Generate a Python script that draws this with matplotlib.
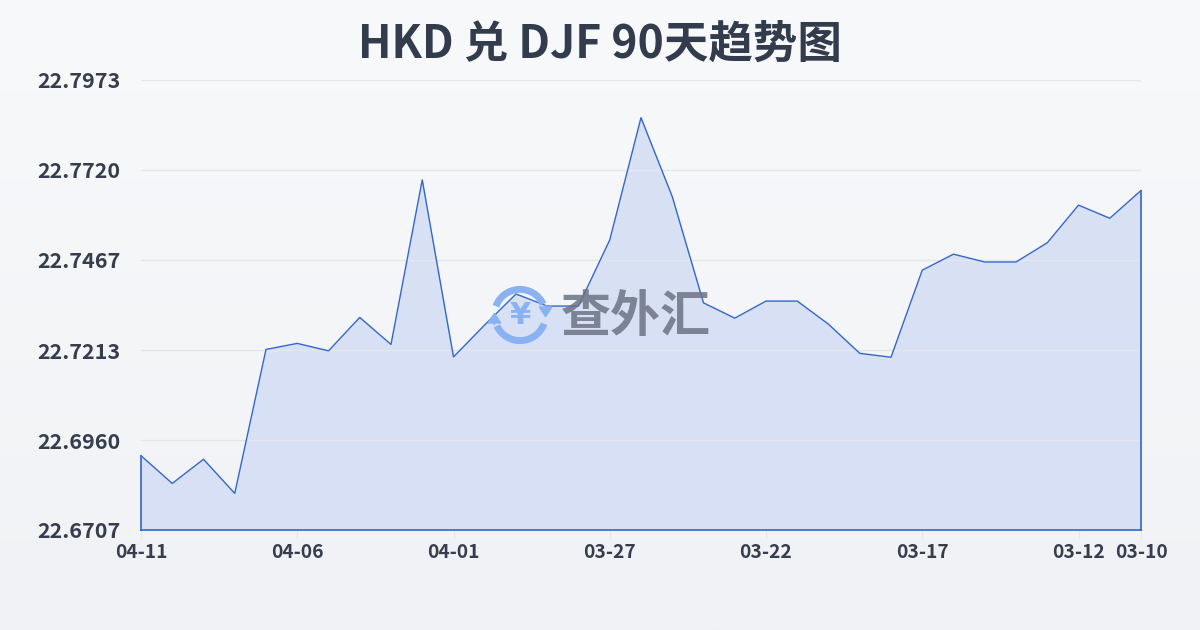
import numpy as np
import matplotlib
matplotlib.use('Agg')
import matplotlib.pyplot as plt
from matplotlib.patches import Arc, FancyArrow

plt.rcParams['font.family'] = ['Noto Sans CJK SC', 'DejaVu Sans']

# data, newest first (left) to oldest (right)
dates = ['04-11', '04-10', '04-09', '04-08', '04-07', '04-06', '04-05', '04-04',
         '04-03', '04-02', '04-01', '03-31', '03-30', '03-29', '03-28', '03-27',
         '03-26', '03-25', '03-24', '03-23', '03-22', '03-21', '03-20', '03-19',
         '03-18', '03-17', '03-16', '03-15', '03-14', '03-13', '03-12', '03-11',
         '03-10']
rates = [22.6916, 22.6838, 22.6906, 22.6810, 22.7215, 22.7232, 22.7211, 22.7305,
         22.7229, 22.7692, 22.7194, 22.7284, 22.7371, 22.7337, 22.7337, 22.7523,
         22.7867, 22.7645, 22.7346, 22.7303, 22.7351, 22.7351, 22.7286, 22.7204,
         22.7193, 22.7438, 22.7483, 22.7461, 22.7461, 22.7515, 22.7621, 22.7584,
         22.7662]
yticks = [22.6707, 22.6960, 22.7213, 22.7467, 22.7720, 22.7973]
xtick_idx = [0, 5, 10, 15, 20, 25, 30, 32]
title = 'HKD 兑 DJF 90天趋势图'

W, H = 1200, 630
fig = plt.figure(figsize=(W / 100, H / 100), dpi=100)

# background gradient
bg = fig.add_axes([0, 0, 1, 1], zorder=-10)
grad = np.linspace(0, 1, 256).reshape(-1, 1)
top = np.array([0xf8, 0xf9, 0xfb]) / 255
bot = np.array([0xf0, 0xf2, 0xf5]) / 255
img = top + (bot - top) * grad[:, :, None]
bg.imshow(img, aspect='auto', extent=[0, 1, 0, 1])
bg.axis('off')

ax = fig.add_axes([141 / W, (H - 530) / H, 1000 / W, 450 / H])
ax.patch.set_alpha(0)
x = np.arange(len(rates))
line_c = '#3366cc'
ax.fill_between(x, rates, yticks[0], color='#d3ddf4', alpha=0.85, linewidth=0)
ax.plot(x, rates, color=line_c, lw=1.0, clip_on=False)
ax.plot([0, 0], [yticks[0], rates[0]], color=line_c, lw=1.2, clip_on=False)
ax.plot([x[-1], x[-1]], [yticks[0], rates[-1]], color=line_c, lw=1.2, clip_on=False)
ax.plot([0, x[-1]], [yticks[0], yticks[0]], color=line_c, lw=1.2, clip_on=False)

ax.set_xlim(0, len(rates) - 1)
ax.set_ylim(yticks[0], yticks[-1])
ax.set_yticks(yticks)
ax.set_yticklabels([f'{v:.4f}' for v in yticks])
ax.set_xticks(xtick_idx)
ax.set_xticklabels([dates[i] for i in xtick_idx])
ax.grid(axis='y', color='#e3e6eb', lw=1)
for s in ax.spines.values():
    s.set_visible(False)
ax.tick_params(axis='y', length=0, pad=15, labelsize=15.5, labelcolor='#363e4d')
ax.tick_params(axis='x', length=6, color='#e3e6eb', pad=3, labelsize=13.8,
               labelcolor='#363e4d')
for lab in ax.get_yticklabels() + ax.get_xticklabels():
    lab.set_fontweight('bold')

fig.text(0.5, 1 - 45 / H, title, ha='center', va='center', fontsize=32,
         fontweight='heavy', color='#333c4c')

# watermark
fig.text(561 / W, 1 - 317 / H, '查外汇', ha='left', va='center', fontsize=36,
         fontweight='bold', color='#6b7385', alpha=0.85)
ic = fig.add_axes([(520 - 32) / W, 1 - (315 + 32) / H, 64 / W, 64 / H])
ic.set_xlim(-1, 1)
ic.set_ylim(-1, 1)
ic.axis('off')
blue = '#8ab2f2'
ic.add_patch(Arc((0, 0), 1.6, 1.6, theta1=25, theta2=160, lw=5, color=blue))
ic.add_patch(Arc((0, 0), 1.6, 1.6, theta1=205, theta2=340, lw=5, color=blue))
ic.add_patch(FancyArrow(0.8, 0.3, 0.0, -0.05, width=0.01, head_width=0.4,
                        head_length=0.3, color=blue))
ic.add_patch(FancyArrow(-0.8, -0.3, 0.0, 0.05, width=0.01, head_width=0.4,
                        head_length=0.3, color=blue))
ic.text(0, -0.02, '¥', ha='center', va='center', fontsize=22, fontweight='bold',
        color=blue, family='DejaVu Sans')

fig.savefig('out.png', dpi=100)
